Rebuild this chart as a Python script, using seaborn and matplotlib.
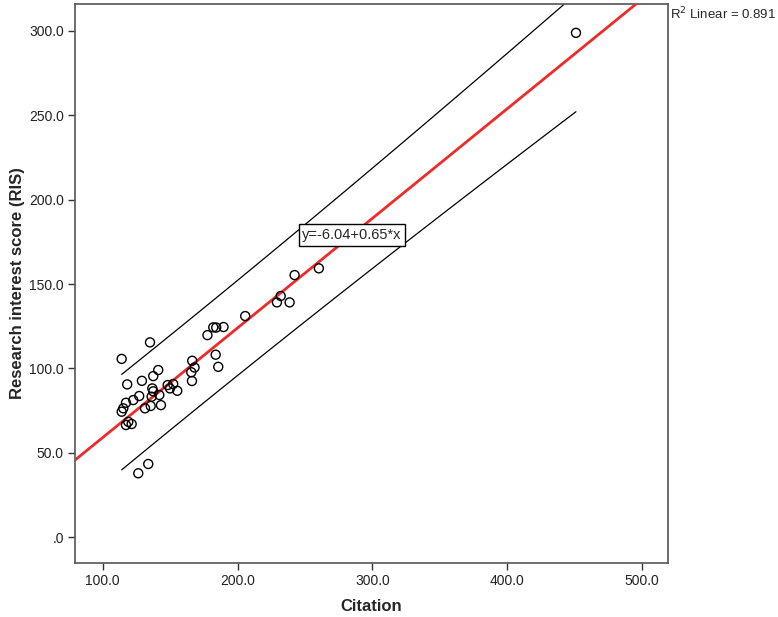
import numpy as np
import pandas as pd
import matplotlib
matplotlib.use("Agg")
import matplotlib.pyplot as plt
import seaborn as sns

# values (SPSS style chart)
citation = [135.1, 114.1, 141.2, 137.5, 118.2, 129.1, 136.8, 137.5, 148.2, 152.3,
            155.3, 149.9, 127.1, 122.7, 117.3, 115.3, 114.1, 131.4, 135.6, 143.2,
            136.3, 142.0, 119.0, 121.5, 117.3, 133.8, 126.4, 166.4, 168.1, 165.7,
            166.2, 183.8, 185.7, 177.7, 182.0, 184.2, 189.6, 205.7, 229.2, 232.0,
            238.6, 242.3, 260.3, 450.9]
ris = [115.4, 105.6, 99.0, 95.4, 90.5, 92.6, 88.1, 86.4, 90.1, 90.7,
       86.7, 88.1, 83.6, 81.2, 79.6, 76.3, 74.3, 76.3, 77.7, 78.2,
       83.2, 84.2, 68.3, 67.0, 66.4, 43.3, 37.8, 104.5, 100.5, 97.7,
       92.5, 108.1, 100.9, 119.7, 124.3, 124.2, 124.5, 131.0, 139.1, 142.9,
       139.1, 155.3, 159.3, 298.9]

# fit as printed on the chart
intercept = -6.04
slope = 0.65
r2_text = "0.891"

x_ticks = [100, 200, 300, 400, 500]
y_ticks = [0, 50, 100, 150, 200, 250, 300]

df = pd.DataFrame({"Citation": citation, "RIS": ris})

sns.set_style("ticks")
plt.rcParams["font.family"] = ["Liberation Sans", "DejaVu Sans"]

fig = plt.figure(figsize=(7.78, 6.17), dpi=100)
ax = fig.add_axes([0.0964, 0.0875, 0.762, 0.906])

xlim = (79.5, 519)
ylim = (-15.4, 316)

# fit line over the whole axis
line_x = np.linspace(xlim[0], xlim[1], 50)
sns.lineplot(x=line_x, y=intercept + slope * line_x, color="#ee2a2a",
             linewidth=2.0, ax=ax, zorder=3)

# 95% prediction interval over the data range
x = np.array(citation)
y = np.array(ris)
n = len(x)
resid = y - (intercept + slope * x)
s = np.sqrt(np.sum(resid ** 2) / (n - 2))
sxx = np.sum((x - x.mean()) ** 2)
t_crit = 2.015
pi_x = np.linspace(x.min(), x.max(), 100)
half = t_crit * s * np.sqrt(1 + 1 / n + (pi_x - x.mean()) ** 2 / sxx)
pred = intercept + slope * pi_x
sns.lineplot(x=pi_x, y=pred + half, color="black", linewidth=0.9, ax=ax, zorder=2)
sns.lineplot(x=pi_x, y=pred - half, color="black", linewidth=0.9, ax=ax, zorder=2)

sns.scatterplot(data=df, x="Citation", y="RIS", facecolor="none", edgecolor="black",
                linewidth=1.0, s=42, ax=ax, zorder=4)

ax.set_xlim(*xlim)
ax.set_ylim(*ylim)
ax.set_xticks(x_ticks)
ax.set_yticks(y_ticks)
ax.set_xticklabels([f"{v:.1f}" for v in x_ticks])
ax.set_yticklabels([".0"] + [f"{v:.1f}" for v in y_ticks[1:]])
ax.tick_params(direction="out", length=5, width=1, color="#333333",
               labelsize=10, labelcolor="#222222", pad=3)

for sp in ax.spines.values():
    sp.set_visible(True)
    sp.set_color("#555555")
    sp.set_linewidth(1.2)

ax.set_xlabel("Citation", fontsize=12, fontweight="bold", labelpad=8)
ax.set_ylabel("Research interest score (RIS)", fontsize=12, fontweight="bold", labelpad=3)

# equation label sitting on the fit line
eq_x = 284.8
ax.text(eq_x, intercept + slope * eq_x, "y=-6.04+0.65*x", fontsize=10.5,
        ha="center", va="center", zorder=5,
        bbox=dict(boxstyle="square,pad=0.25", facecolor="white", edgecolor="black", linewidth=1))

fig.text(0.861, 0.977, "R$^2$ Linear = " + r2_text, fontsize=9.5, ha="left", va="center")

fig.savefig("out.png", dpi=100)
